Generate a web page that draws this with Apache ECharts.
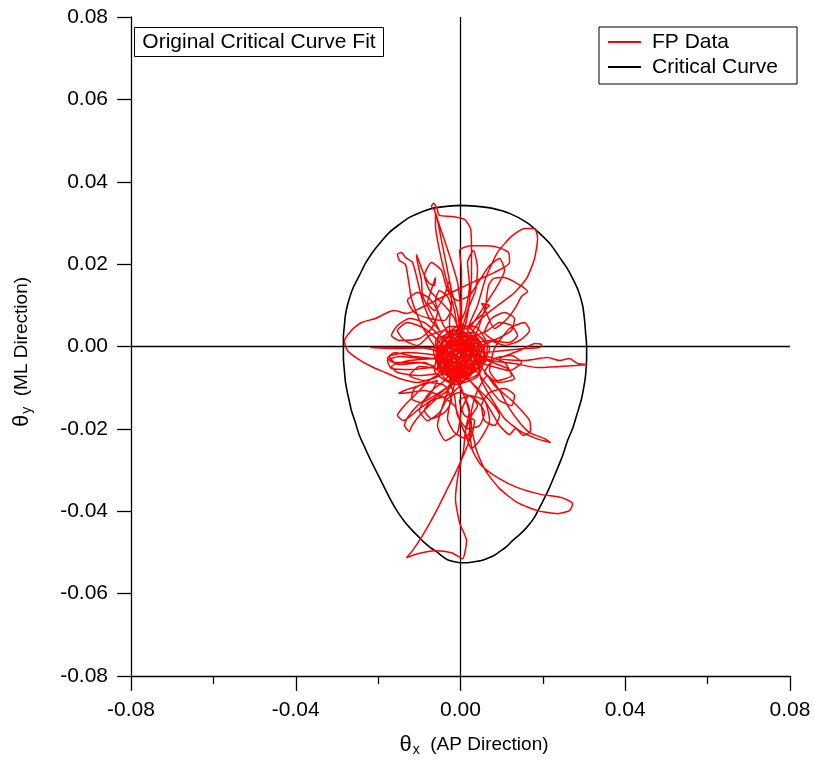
<!DOCTYPE html>
<html>
<head>
<meta charset="utf-8">
<script src="https://cdn.jsdelivr.net/npm/echarts@6/dist/echarts.min.js"></script>
<style>
  html, body { margin: 0; padding: 0; background: #fff; }
  #chart { width: 814px; height: 762px; }
</style>
</head>
<body>
<div id="chart"></div>
<script>
// Axis range and tick spacing (radians)
const axisMin = -0.08;
const axisMax = 0.08;
const xTickStep = 0.04;
const yTickStep = 0.02;

const seriesNames = ['FP Data', 'Critical Curve'];

// Force-plate sway trajectory: theta_x (AP) and theta_y (ML)
const fpX = [
  -0.00146, 0.00219, 0.00413, 0.00122, -0.00365, -0.0051, -0.00219, 0.00267, 0.00462, 0.00219,
  -0.00219, -0.00559, -0.00389, -0.00024, -0.00073, -0.00219, -0.0034, -0.00462, -0.00559, -0.00632,
  -0.00705, -0.00656, -0.00583, -0.0051, -0.00219, 0.00097, 0.00243, 0.00267, 0.00267, 0.00219,
  0.00122, -0.00073, -0.00316, -0.00146, 0.0034, 0.00583, 0.0034, -0.00146, -0.00462, -0.00267,
  0.0017, 0.00267, -0.00024, -0.00146, -0.0034, -0.0051, -0.00608, -0.00608, -0.0051, -0.00267,
  -0.00073, 0, -0.00073, -0.00389, -0.0051, -0.00073, 0.00413, 0.0051, 0.0017, 0.00413,
  0.00608, 0.00899, 0.01239, 0.01555, 0.01798, 0.01871, 0.01798, 0.01604, 0.01288, 0.00899,
  0.0051, 0.00219, -0.00146, -0.00389, 0.00024, 0.00462, 0.00413, 0.00024, 0.00024, 0.00024,
  -0.00024, 0.00267, 0.00826, 0.01166, 0.01191, 0.00826, 0.0034, -0.00024, -0.0051, -0.00996,
  -0.01312, -0.01604, -0.01774, -0.02066, -0.02406, -0.02649, -0.02819, -0.02746, -0.02503, -0.02163,
  -0.01823, -0.01482, -0.01045, -0.00608, -0.00267, 0.00097, 0.00365, 0.00122, -0.00316, -0.0051,
  -0.00996, -0.01604, -0.02187, -0.01604, -0.00753, -0.00146, 0.00267, -0.00267, -0.00875, -0.01482,
  -0.01774, -0.01677, -0.01191, -0.00632, -0.00996, -0.01604, -0.01725, -0.01288, -0.00559, -0.00073,
  0.0034, 0.00122, -0.00316, -0.00559, -0.00875, -0.01045, -0.01191, -0.01264, -0.01337, -0.01482,
  -0.01531, -0.01434, -0.01337, -0.01166, -0.01045, -0.00923, -0.00753, -0.0051, -0.00753, -0.00923,
  -0.00948, -0.01045, -0.01069, -0.00875, -0.00753, -0.00632, -0.00608, -0.00729, -0.00802, -0.00632,
  -0.00389, -0.00267, -0.00219, -0.00267, -0.00219, 0.00024, 0.0051, 0.00583, 0.00219, 0.00583,
  0.00632, 0.0068, 0.00802, 0.01045, 0.01288, 0.01628, 0.01482, 0.01337, 0.01142, 0.00826,
  0.00583, 0.0051, 0.00705, 0.00583, 0.00413, 0.00219, 0.00583, 0.01069, 0.01555, 0.0192,
  0.01968, 0.01823, 0.01434, 0.00948, 0.01555, 0.02114, 0.02406, 0.02649, 0.02843, 0.03062,
  0.02795, 0.02406, 0.01871, 0.01312, 0.00753, 0.00219, -0.00146, -0.00462, -0.00365, 0.00097,
  0.00462, 0.00826, 0.01191, 0.01482, 0.01677, 0.01701, 0.01531, 0.01337, 0.01191, 0.00948,
  0.00705, 0.00462, 0.00219, -0.00146, -0.00462, -0.00267, 0.0017, 0.00365, 0.0051, 0.00753,
  0.01069, 0.01434, 0.01847, 0.02187, 0.02041, 0.01677, 0.01434, 0.01142, 0.00948, 0.00656,
  0.00413, 0.00267, 0.00219, 0.00292, 0.0051, 0.00899, 0.01385, 0.01968, 0.02454, 0.02722,
  0.02649, 0.02357, 0.01871, 0.01385, 0.00948, 0.00608, 0.00389, 0.00267, 0.0017, -0.00073,
  -0.00316, -0.00608, -0.00923, -0.01166, -0.01312, -0.01045, -0.00608, -0.00219, 0.00049, 0.00146,
  -0.00024, -0.00122, -0.00049, 0.00073, 0.00122, 0.00267, 0.00413, 0.00219, -0.00024, 0.00097,
  0.0034, 0.00219, 0.00024, -0.00146, -0.0051, -0.00875, -0.01239, -0.01507, -0.01361, -0.00996,
  -0.00559, -0.00753, -0.01045, -0.01288, -0.01361, -0.01239, -0.01191, -0.00996, -0.00632, -0.00316,
  -0.00073, -0.00389, -0.00559, -0.00316, 0.00097, 0.00413, 0.0034, -0.00073, -0.0034, -0.00146,
  0.0017, 0.00024, -0.00219, -0.00073, 0.00097, -0.00389, -0.00753, -0.00996, -0.00802, -0.0051,
  -0.00316, -0.00024, 0.0034, 0.00583, 0.00462, 0.0017, -0.00073, -0.00146, -0.00267, 0.00219,
  0.00705, 0.01191, 0.01482, 0.01239, 0.00826, 0.00583, 0.00948, 0.01312, 0.01142, 0.00656,
  0.0034, 0.00024, -0.00219, -0.00073, -0.00316, 0.00024, 0.00316, -0.00024, -0.00413, -0.00219,
  0.00219, 0.00267, -0.00219, -0.00365, -0.00073, 0.00365, 0.00219, -0.00146, -0.00267, 0.00049,
  -0.00024, -0.0017, 0.00122, -0.00122, -0.0051, -0.00608, -0.00267, 0.0034, 0.00656, 0.00413,
  -0.00146, -0.00632, -0.00462, -0.00024,
  -0.00146, -0.0051, -0.00875, -0.01239, -0.01531, -0.01677, -0.01482, -0.00996, -0.00705, -0.00559,
  -0.00753, -0.01045, -0.01288, -0.01118, -0.00753, -0.00389, -0.00219, -0.00316, -0.0051, -0.00608,
  -0.00413, -0.00146,
  0.00024, -0.00316, -0.00122, 0.00219, -0.00219, -0.0051, 0.00024, 0.00413, -0.00073, -0.00413,
  0.00219, 0.00656, 0.00948, 0.01239, 0.01385, 0.01191, 0.00826, 0.00583, 0.00753, 0.01069,
  0.01312, 0.01239, 0.00899, 0.0051,
  -0.00073, 0.00267, 0.00122, -0.00365, -0.00559, -0.00024, 0.0051, 0.00219, -0.00267, 0.00024,
  0.00097, -0.00267, -0.00632, -0.00948, -0.01191, -0.01118, -0.00802, -0.00389, -0.00219, -0.00389,
  -0.00705, -0.00875, -0.00705, -0.00316, -0.00024,
  -0.0051, -0.01118, -0.01604, -0.01774, -0.01482, -0.00875, -0.0051, -0.00996, -0.01531, -0.01677,
  -0.01239, -0.00559,
  0.0017, 0.00462, 0.00753, 0.00948, 0.00826, 0.00583, 0.0051, 0.00705, 0.01069, 0.01312,
  0.01239, 0.00948, 0.00656, 0.00413,
  -0.00219, 0.00316, -0.00122, -0.00413, 0.00122, 0.00365, -0.00219, -0.00608, -0.00073, 0.00219,
  0.00024, 0.0017, 0.00365, 0.00413, 0.00316, 0.0017, 0.00219, 0.00122, -0.00073,
  -0.00073, -0.00219, -0.00316, -0.00146, 0.00122, 0.00267, 0.0017, 0.00024, -0.00122,
  -0.00073, -0.00389, -0.00753, -0.01045, -0.01361, -0.01531, -0.01288, -0.00875, -0.0051, -0.00219,
  -0.0051, -0.00875, -0.01239, -0.00996, -0.00462, -0.00024,
  0.00219, 0.00705, 0.01069, 0.01434, 0.01677, 0.01555, 0.01191, 0.00826, 0.00705, 0.00899,
  0.01239, 0.01069, 0.00608, 0.00219,
  -0.00146, -0.00389, -0.00559, -0.00365, -0.00073, 0.00024, 0.00219, 0.00583, 0.00705, 0.00462,
  0.00267, 0.00122, 0.00219, 0.00024,
  -0.00267, -0.00705, -0.01045, -0.01361, -0.01531, -0.01385, -0.00996, -0.00559, -0.00219,
  0.00122, -0.00413, 0.00267, 0.00608, -0.00316, -0.00656, 0.00024, 0.00705, -0.00024, -0.00559,
  -0.00122, 0.00462, 0.00219, -0.00365, 0.0017,
  0.00024, -0.00146, -0.00389, -0.00753, -0.00875, -0.00705, -0.00462, -0.00316, -0.00073, 0.00219,
  0.00462, 0.00705, 0.00948, 0.01069, 0.00826, 0.0051, 0.00219
];
const fpY = [
  -0.00146, 0.00146, -0.00219, -0.00632, -0.00486, -0.00049, 0.00316, 0.00243, -0.00097, -0.00462,
  -0.00632, -0.0034, 0.00146, 0.00389, 0.00826, 0.01361, 0.01968, 0.02576, 0.03062, 0.03305,
  0.03402, 0.03475, 0.03378, 0.03183, 0.03159, 0.03086, 0.02867, 0.02333, 0.01725, 0.01118,
  0.0051, 0.00024, -0.00292, -0.00705, -0.00583, -0.00146, 0.00267, 0.00194, -0.00219, -0.00535,
  -0.00389, 0.00024, 0.00267, 0.00875, 0.01604, 0.02333, 0.0294, 0.03256, 0.0294, 0.02211,
  0.01555, 0.00875, 0.00389, 0.00024, -0.00389, -0.00778, -0.00535, 0.00024, 0.00389, 0.00996,
  0.01652, 0.02284, 0.02673, 0.02867, 0.02867, 0.02624, 0.02138, 0.01652, 0.01288, 0.00996,
  0.0068, 0.00267, -0.00097, -0.00632, -0.00826, -0.00632, -0.00097, 0.00097, 0.01118, 0.01847,
  0.02333, 0.02454, 0.0243, 0.02284, 0.02041, 0.01798, 0.0158, 0.01409, 0.01166, 0.00923,
  0.00802, 0.00875, 0.00826, 0.0068, 0.00583, 0.00389, 0.00122, -0.00097, -0.00292, -0.00486,
  -0.00632, -0.00778, -0.00875, -0.00729, -0.0034, -0.00049, -0.00292, -0.00729, -0.00632, -0.00146,
  -0.00024, -0.00024, -0.00024, -0.00049, -0.00024, 0, -0.00024, -0.00243, -0.00292, -0.00243,
  -0.0034, -0.00535, -0.00559, -0.00486, -0.00389, -0.00389, -0.00243, -0.00146, -0.00219, -0.00389,
  0, 0.00437, 0.0034, -0.00049, 0.00389, 0.00753, 0.01166, 0.01604, 0.01993, 0.0209,
  0.02236, 0.02284, 0.02163, 0.02041, 0.01604, 0.01118, 0.0068, 0.00389, 0.00875, 0.01239,
  0.01604, 0.02041, 0.02236, 0.01725, 0.01531, 0.01482, 0.01677, 0.01312, 0.01069, 0.00875,
  0.01239, 0.01604, 0.01118, 0.00583, 0.00024, -0.00462, -0.00389, 0.00097, 0.00486, 0.00826,
  0.01166, 0.01482, 0.01652, 0.01677, 0.0158, 0.01337, 0.01215, 0.00948, 0.0068, 0.00437,
  0.00923, 0.01045, 0.00996, 0.00875, 0.00389, 0.00024, -0.00146, -0.00097, -0.00049, -0.00024,
  0.00049, 0.00073, -0.00097, -0.00292, -0.0034, -0.00267, -0.0034, -0.00292, -0.00413, -0.00437,
  -0.00462, -0.00486, -0.0051, -0.00413, -0.0034, -0.00097, 0.00146, -0.00097, -0.00583, -0.00778,
  -0.00486, -0.00948, -0.01264, -0.01555, -0.01798, -0.02041, -0.02163, -0.01993, -0.02138, -0.0192,
  -0.01507, -0.01118, -0.00826, -0.00535, -0.00292, 0.00097, 0.00146, -0.00243, -0.00826, -0.01264,
  -0.0175, -0.02041, -0.02236, -0.02333, -0.02236, -0.0209, -0.01847, -0.01434, -0.01069, -0.00705,
  -0.01069, -0.01555, -0.02041, -0.02527, -0.02892, -0.03183, -0.03426, -0.03596, -0.03669, -0.03815,
  -0.03985, -0.04058, -0.03985, -0.03791, -0.03451, -0.03013, -0.02527, -0.02041, -0.02406, -0.02965,
  -0.03451, -0.04034, -0.04593, -0.04957, -0.05127, -0.0503, -0.04957, -0.05006, -0.05152, -0.04714,
  -0.04277, -0.03694, -0.03062, -0.02527, -0.02041, -0.01677, -0.01434, -0.01191, -0.01312, -0.01677,
  -0.01798, -0.02284, -0.0192, -0.01434, -0.01191, -0.01069, -0.01118, -0.01142, -0.01069, -0.00948,
  -0.00826, -0.01191, -0.01434, -0.01725, -0.0192, -0.02066, -0.01944, -0.01677, -0.01312, -0.01069,
  -0.00705, -0.00462, -0.00097, 0.00243, 0.00292, 0.00049, -0.00389, -0.00583, -0.00292, 0.00024,
  -0.00097, -0.00389, -0.00243, -0.00049, -0.00219, -0.00826, -0.01118, -0.01555, -0.01798, -0.01604,
  -0.01264, -0.01118, -0.01264, -0.01604, -0.0192, -0.01993, -0.01677, -0.01191, -0.00826, -0.0034,
  -0.00462, -0.00583, -0.00389, -0.00219, -0.00292, -0.00632, -0.00875, -0.00778, -0.00535, -0.0034,
  -0.00097, 0.00024, -0.00146, -0.0034, -0.00097, 0.00194, -0.00146, -0.00535, -0.00292, 0.00146,
  0.00097, -0.00389, -0.00486, -0.00049, 0.00243, 0.00146, -0.00292, -0.00389, -0.00146, -0.00097,
  -0.00292, -0.00194, -0.0034, -0.00632, -0.00462, 0.00097, 0.00486, 0.00486, 0.00024, -0.00729,
  -0.00923, -0.00583, 0.00024, -0.00146,
  -0.00097, 0.00267, 0.00583, 0.0068, 0.0051, 0.00267, 0.00146, 0.00194, 0.00437, 0.00826,
  0.01166, 0.01312, 0.01118, 0.00826, 0.0068, 0.00632, 0.00923, 0.01215, 0.01361, 0.01118,
  0.0051, 0.00194,
  -0.00146, 0.00049, 0.00292, -0.00049, -0.00437, -0.00146, 0.00097, -0.0034, -0.0068, -0.0034,
  0.00194, 0.00389, 0.00583, 0.0051, 0.00267, 0.00097, 0.00146, 0.0034, 0.0068, 0.00826,
  0.0068, 0.00389, 0.00194, 0.00024,
  -0.00097, 0.00194, -0.00486, -0.0068, 0.00146, 0.00389, -0.00097, -0.00632, -0.00243, 0,
  -0.00583, -0.00948, -0.01191, -0.01361, -0.01264, -0.01021, -0.00875, -0.00948, -0.01312, -0.01604,
  -0.0175, -0.01555, -0.01312, -0.01191, -0.00948,
  -0.0034, -0.00243, -0.00146, -0.00292, -0.00437, -0.00389, -0.00632, -0.00705, -0.00632, -0.00486,
  -0.0034, -0.00292,
  -0.00778, -0.01069, -0.01361, -0.01677, -0.0192, -0.01798, -0.01434, -0.01118, -0.01021, -0.01191,
  -0.01434, -0.01312, -0.00948, -0.00632,
  0.00146, -0.00194, -0.00535, -0.00049, 0.00243, -0.00583, -0.00778, -0.00292, 0.00049, -0.0034,
  0.00267, 0.00875, 0.01361, 0.01895, 0.02333, 0.02041, 0.01482, 0.00875, 0.00389,
  -0.00583, -0.01191, -0.0175, -0.0209, -0.02236, -0.0192, -0.01434, -0.01021, -0.00632,
  -0.00146, 0.00389, 0.00267, 0.00024, 0.00146, 0.00389, 0.00583, 0.00437, 0.00097, -0.0034,
  -0.00705, -0.00826, -0.00705, -0.00486, -0.00535, -0.00292,
  0.00024, 0.00146, 0.00024, 0.00146, 0.00389, 0.00583, 0.00437, -0.00049, -0.00583, -0.00826,
  -0.00705, -0.00389, -0.00243, -0.00486,
  -0.00705, -0.01312, -0.0192, -0.02284, -0.0209, -0.01555, -0.01191, -0.01312, -0.01798, -0.02284,
  -0.02479, -0.02041, -0.01555, -0.01069,
  -0.00632, -0.00778, -0.01118, -0.01434, -0.01677, -0.01798, -0.01507, -0.01191, -0.00875,
  -0.00146, 0.00194, 0.0034, -0.0034, -0.00826, -0.00097, 0.00535, -0.00049, -0.00875, -0.00486,
  0.00146, 0.00146, -0.00729, -0.00243, -0.00243,
  0.00146, 0.0068, 0.00996, 0.01361, 0.01725, 0.02041, 0.01847, 0.01361, 0.01118, 0.01239,
  0.01604, 0.01968, 0.02138, 0.01847, 0.01361, 0.00875, 0.00437
];

// Fitted critical (stability) boundary, closed loop
const critX = [
  0, 0.00413, 0.00778, 0.01191, 0.01604, 0.0192, 0.02187, 0.02406, 0.02576, 0.02722,
  0.02867, 0.02965, 0.03013, 0.03038, 0.03062, 0.03062, 0.03038, 0.03013, 0.0294, 0.02819,
  0.02722, 0.026, 0.02479, 0.02333, 0.02138, 0.0192, 0.01774, 0.01604, 0.01434, 0.01264,
  0.01118, 0.00948, 0.00802, 0.00632, 0.00486, 0.0034, 0.0017, 0.00024,
  -0.00146, -0.00316, -0.00462, -0.00583, -0.00729, -0.00875, -0.01021, -0.01166, -0.01337, -0.01482,
  -0.01604, -0.01725, -0.01968, -0.02211, -0.02333, -0.02454, -0.02552, -0.02649, -0.02697, -0.02746,
  -0.02795, -0.02819, -0.02843, -0.02843, -0.02843, -0.02819, -0.02795, -0.02746, -0.02624, -0.02454,
  -0.02309, -0.02138, -0.01944, -0.01725, -0.01482, -0.01239, -0.00972, -0.0068, -0.0034, 0
];
const critY = [
  0.03426, 0.03402, 0.03353, 0.03232, 0.03013, 0.02746, 0.02479, 0.02163, 0.0192, 0.01652,
  0.01337, 0.00996, 0.00632, 0.00316, 0.00024, -0.00267, -0.0068, -0.00875, -0.01264, -0.01677,
  -0.01993, -0.02284, -0.02649, -0.03013, -0.03475, -0.03912, -0.0418, -0.04398, -0.04568, -0.04714,
  -0.0486, -0.04982, -0.05079, -0.05152, -0.052, -0.05225, -0.05249, -0.05249,
  -0.05225, -0.05176, -0.05079, -0.04982, -0.04884, -0.04763, -0.04617, -0.04471, -0.04277, -0.04082,
  -0.03888, -0.03669, -0.03183, -0.02697, -0.0243, -0.02163, -0.01847, -0.01555, -0.01337, -0.01118,
  -0.00851, -0.00583, -0.00292, 0, 0.00243, 0.0051, 0.00753, 0.00996, 0.01385, 0.01725,
  0.02017, 0.02284, 0.02527, 0.0277, 0.02965, 0.03135, 0.03256, 0.03353, 0.03402, 0.03426
];

const zip = (xs, ys) => {
  const n = Math.min(xs.length, ys.length);
  const out = [];
  for (let i = 0; i < n; i++) out.push([xs[i], ys[i]]);
  return out;
};

const FONT = '"Liberation Sans", Arial, Helvetica, sans-serif';
const tickLine = { color: '#000', width: 1.3 };

const chart = echarts.init(document.getElementById('chart'), null, { renderer: 'canvas' });

chart.setOption({
  animation: false,
  backgroundColor: '#ffffff',
  textStyle: { fontFamily: FONT },
  grid: { left: 131, right: 24, top: 17, bottom: 86 },
  xAxis: {
    type: 'value',
    min: axisMin,
    max: axisMax,
    interval: xTickStep,
    axisLine: { onZero: false, lineStyle: tickLine },
    axisTick: { length: 15, lineStyle: tickLine },
    minorTick: { show: true, splitNumber: 2, length: 8, lineStyle: tickLine },
    splitLine: { show: false },
    minorSplitLine: { show: false },
    axisLabel: {
      margin: 24, fontSize: 21, color: '#000', fontFamily: FONT,
      formatter: v => v.toFixed(2)
    }
  },
  yAxis: {
    type: 'value',
    min: axisMin,
    max: axisMax,
    interval: yTickStep,
    axisLine: { onZero: false, lineStyle: tickLine },
    axisTick: { length: 14, lineStyle: tickLine },
    splitLine: { show: false },
    axisLabel: {
      margin: 23, fontSize: 21, color: '#000', fontFamily: FONT,
      formatter: v => v.toFixed(2)
    }
  },
  legend: {
    data: [
      { name: seriesNames[0], icon: 'rect' },
      { name: seriesNames[1], icon: 'rect' }
    ],
    orient: 'vertical',
    left: 599,
    top: 27,
    backgroundColor: '#fff',
    borderColor: '#000',
    borderWidth: 1,
    borderRadius: 0,
    padding: [4, 19, 6, 9],
    itemGap: 3,
    itemWidth: 33,
    itemHeight: 2,
    selectedMode: false,
    textStyle: { fontSize: 21, color: '#000', lineHeight: 22, fontFamily: FONT, padding: [0, 0, 0, 6] }
  },
  series: [
    {
      name: seriesNames[1],
      type: 'line',
      data: zip(critX, critY),
      smooth: 0.3,
      symbol: 'none',
      z: 3,
      color: '#000000',
      itemStyle: { color: '#000000' },
      lineStyle: { color: '#000000', width: 1.6 },
      markLine: {
        silent: true,
        symbol: ['none', 'none'],
        label: { show: false },
        lineStyle: { color: '#000', type: 'solid', width: 1.3 },
        data: [{ xAxis: 0 }, { yAxis: 0 }]
      }
    },
    {
      name: seriesNames[0],
      type: 'line',
      data: zip(fpX, fpY),
      smooth: 0.2,
      symbol: 'none',
      z: 10,
      color: '#ff0000',
      itemStyle: { color: '#ff0000' },
      lineStyle: { color: '#ff0000', width: 1.5 }
    }
  ],
  graphic: [
    {
      type: 'group',
      z: 100,
      children: [
        {
          type: 'rect',
          shape: { x: 134.5, y: 27.5, width: 249, height: 29 },
          style: { fill: '#fff', stroke: '#000', lineWidth: 1 }
        },
        {
          type: 'text',
          x: 259,
          y: 42.5,
          style: {
            text: 'Original Critical Curve Fit',
            fontSize: 21, fontFamily: FONT, fill: '#000',
            align: 'center', verticalAlign: 'middle'
          }
        }
      ]
    },
    {
      type: 'text',
      z: 100,
      x: 474,
      y: 745,
      style: {
        text: '{a|θ}{b|x}{c|  (AP Direction)}',
        fill: '#000',
        align: 'center',
        verticalAlign: 'middle',
        rich: {
          a: { fontSize: 22, fontFamily: FONT, fill: '#000' },
          b: { fontSize: 14, fontFamily: FONT, fill: '#000', padding: [10, 0, 0, 1] },
          c: { fontSize: 19, fontFamily: FONT, fill: '#000' }
        }
      }
    },
    {
      type: 'text',
      z: 100,
      x: 22,
      y: 352,
      rotation: Math.PI / 2,
      style: {
        text: '{a|θ}{b|y}{c|  (ML Direction)}',
        fill: '#000',
        align: 'center',
        verticalAlign: 'middle',
        rich: {
          a: { fontSize: 22, fontFamily: FONT, fill: '#000' },
          b: { fontSize: 14, fontFamily: FONT, fill: '#000', padding: [10, 0, 0, 1] },
          c: { fontSize: 19, fontFamily: FONT, fill: '#000' }
        }
      }
    }
  ]
});
</script>
</body>
</html>
